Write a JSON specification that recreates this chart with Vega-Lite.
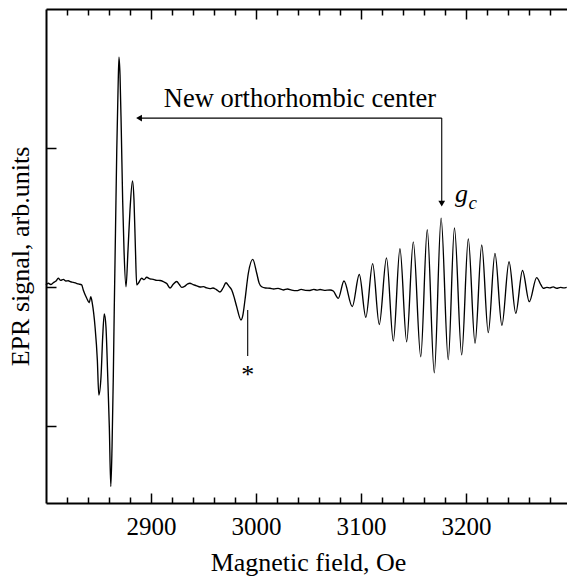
{
  "$schema": "https://vega.github.io/schema/vega-lite/v6.json",
  "autosize": {"type": "none"},
  "padding": {"left": 46, "top": 9, "right": 0, "bottom": 73},
  "width": 521,
  "height": 494,
  "background": "white",
  "config": {
    "view": {"stroke": null},
    "font": "Liberation Serif",
    "axis": {"labelFont": "Liberation Serif", "titleFont": "Liberation Serif", "titleFontWeight": "normal", "labelColor": "black", "titleColor": "black", "domainColor": "black", "tickColor": "black", "grid": false}
  },
  "resolve": {"axis": {"x": "independent", "y": "independent"}},
  "layer": [
    {
      "data": {"values": [
        {"x": 2800.0, "v": 0.017}, {"x": 2802.2, "v": 0.029}, {"x": 2804.5, "v": 0.02}, {"x": 2807.0, "v": 0.033}, {"x": 2809.5, "v": 0.045}, {"x": 2811.7, "v": 0.065}, {"x": 2814.0, "v": 0.05}, {"x": 2816.5, "v": 0.057}, {"x": 2819.0, "v": 0.045}, {"x": 2821.2, "v": 0.047}, {"x": 2823.5, "v": 0.04}, {"x": 2826.0, "v": 0.036}, {"x": 2828.5, "v": 0.03}, {"x": 2830.8, "v": 0.024}, {"x": 2834.0, "v": 0.017}, {"x": 2835.5, "v": -0.019}, {"x": 2838.8, "v": -0.079}, {"x": 2841.2, "v": -0.111}, {"x": 2842.6, "v": -0.068}, {"x": 2844.1, "v": -0.115}, {"x": 2846.7, "v": -0.283}, {"x": 2848.9, "v": -0.522}, {"x": 2850.3, "v": -0.774}, {"x": 2852.4, "v": -0.642}, {"x": 2854.0, "v": -0.355}, {"x": 2855.5, "v": -0.192}, {"x": 2857.1, "v": -0.283}, {"x": 2858.8, "v": -0.642}, {"x": 2860.3, "v": -1.001}, {"x": 2861.7, "v": -1.431}, {"x": 2862.9, "v": -1.145}, {"x": 2864.1, "v": -0.642}, {"x": 2865.0, "v": -0.163}, {"x": 2866.2, "v": 0.412}, {"x": 2867.4, "v": 0.986}, {"x": 2868.6, "v": 1.417}, {"x": 2869.5, "v": 1.654}, {"x": 2870.5, "v": 1.525}, {"x": 2871.7, "v": 1.13}, {"x": 2873.0, "v": 0.628}, {"x": 2874.3, "v": 0.268}, {"x": 2876.2, "v": 0.004}, {"x": 2878.1, "v": 0.268}, {"x": 2880.0, "v": 0.555}, {"x": 2882.4, "v": 0.764}, {"x": 2883.8, "v": 0.627}, {"x": 2885.2, "v": 0.268}, {"x": 2886.4, "v": 0.017}, {"x": 2888.1, "v": 0.031}, {"x": 2891.1, "v": 0.065}, {"x": 2893.5, "v": 0.055}, {"x": 2895.9, "v": 0.072}, {"x": 2899.0, "v": 0.06}, {"x": 2902.2, "v": 0.057}, {"x": 2905.5, "v": 0.05}, {"x": 2908.6, "v": 0.049}, {"x": 2912.0, "v": 0.04}, {"x": 2915.0, "v": 0.027}, {"x": 2918.1, "v": -0.005}, {"x": 2921.0, "v": 0.02}, {"x": 2924.5, "v": 0.042}, {"x": 2927.0, "v": 0.02}, {"x": 2929.3, "v": -0.001}, {"x": 2932.4, "v": 0.009}, {"x": 2935.0, "v": 0.025}, {"x": 2937.1, "v": 0.029}, {"x": 2940.0, "v": 0.02}, {"x": 2943.0, "v": 0.012}, {"x": 2946.7, "v": 0.002}, {"x": 2950.0, "v": 0.005}, {"x": 2953.0, "v": -0.004}, {"x": 2956.2, "v": -0.009}, {"x": 2959.0, "v": -0.005}, {"x": 2962.0, "v": -0.015}, {"x": 2965.7, "v": -0.034}, {"x": 2968.6, "v": -0.005}, {"x": 2971.4, "v": 0.033}, {"x": 2974.0, "v": 0.01}, {"x": 2976.9, "v": -0.019}, {"x": 2979.5, "v": -0.08}, {"x": 2981.6, "v": -0.139}, {"x": 2985.7, "v": -0.235}, {"x": 2987.5, "v": -0.2}, {"x": 2989.5, "v": -0.091}, {"x": 2992.7, "v": 0.101}, {"x": 2996.9, "v": 0.201}, {"x": 3000.7, "v": 0.101}, {"x": 3003.0, "v": 0.03}, {"x": 3005.4, "v": 0.004}, {"x": 3009.0, "v": -0.005}, {"x": 3013.3, "v": -0.007}, {"x": 3017.0, "v": -0.012}, {"x": 3021.0, "v": -0.008}, {"x": 3026.0, "v": -0.019}, {"x": 3030.0, "v": -0.012}, {"x": 3034.0, "v": -0.02}, {"x": 3038.8, "v": -0.024}, {"x": 3043.0, "v": -0.015}, {"x": 3047.0, "v": -0.022}, {"x": 3051.4, "v": -0.023}, {"x": 3055.0, "v": -0.015}, {"x": 3058.0, "v": -0.02}, {"x": 3061.0, "v": -0.016}, {"x": 3065.0, "v": -0.022}, {"x": 3070.5, "v": -0.019}, {"x": 3073.6, "v": -0.027}, {"x": 3078.4, "v": -0.079}, {"x": 3083.8, "v": 0.045}, {"x": 3091.7, "v": -0.138}, {"x": 3098.4, "v": 0.092}, {"x": 3104.6, "v": -0.216}, {"x": 3111.1, "v": 0.17}, {"x": 3117.4, "v": -0.267}, {"x": 3124.3, "v": 0.212}, {"x": 3130.8, "v": -0.386}, {"x": 3137.1, "v": 0.277}, {"x": 3143.5, "v": -0.391}, {"x": 3149.8, "v": 0.327}, {"x": 3156.9, "v": -0.499}, {"x": 3163.1, "v": 0.414}, {"x": 3169.8, "v": -0.614}, {"x": 3176.3, "v": 0.496}, {"x": 3183.1, "v": -0.52}, {"x": 3189.0, "v": 0.426}, {"x": 3195.9, "v": -0.486}, {"x": 3202.2, "v": 0.348}, {"x": 3208.6, "v": -0.402}, {"x": 3215.0, "v": 0.304}, {"x": 3221.2, "v": -0.326}, {"x": 3227.6, "v": 0.244}, {"x": 3234.2, "v": -0.274}, {"x": 3241.0, "v": 0.184}, {"x": 3247.4, "v": -0.187}, {"x": 3253.8, "v": 0.121}, {"x": 3260.3, "v": -0.103}, {"x": 3267.3, "v": 0.07}, {"x": 3271.4, "v": 0.017}, {"x": 3273.6, "v": -0.007}, {"x": 3277.0, "v": 0.0}, {"x": 3280.0, "v": -0.004}, {"x": 3283.0, "v": 0.003}, {"x": 3286.4, "v": -0.007}, {"x": 3290.0, "v": 0.0}, {"x": 3293.0, "v": -0.004}, {"x": 3295.9, "v": 0.0}
      ]},
      "mark": {"type": "line", "color": "black", "strokeWidth": 1.35, "interpolate": "monotone"},
      "encoding": {
        "x": {"field": "x", "type": "quantitative", "scale": {"domain": [2800, 3296.2], "nice": false, "zero": false},
          "axis": {"orient": "bottom", "values": [2900, 3000, 3100, 3200],
            "format": "d", "tickSize": -10, "tickWidth": 1.5, "domainWidth": 2, "labelFontSize": 25, "labelPadding": 21, "labelFlush": false, "labelOverlap": false,
            "title": "Magnetic field, Oe", "titleFontSize": 26, "titleX": 262, "titleY": 67, "titleAlign": "center", "titleBaseline": "alphabetic", "titleAnchor": null}},
        "y": {"field": "v", "type": "quantitative", "scale": {"domain": [-1.55, 2.0], "nice": false, "zero": false},
          "axis": {"orient": "left", "values": [-1, 0, 1], "labels": false, "tickSize": -10, "tickWidth": 1.5, "domainWidth": 2,
            "title": "EPR signal, arb.units", "titleFontSize": 26, "titleX": -18, "titleY": 247, "titleAngle": -90, "titleAlign": "center", "titleBaseline": "alphabetic"}}
      }
    },
    {
      "data": {"values": [
        {"x": 2888.6, "v": 1.216, "x2": 3176.9, "v2": 1.216},
        {"x": 3176.9, "v": 1.216, "x2": 3176.9, "v2": 0.61},
        {"x": 2992.1, "v": -0.163, "x2": 2992.1, "v2": -0.494}
      ]},
      "mark": {"type": "rule", "color": "black", "strokeWidth": 1.1},
      "encoding": {
        "x": {"field": "x", "type": "quantitative",
          "axis": {"orient": "top", "values": [2900, 3000, 3100, 3200], "labels": false, "title": null, "tickSize": -10, "tickWidth": 1.5, "domainWidth": 2}},
        "y": {"field": "v", "type": "quantitative", "axis": null},
        "x2": {"field": "x2"},
        "y2": {"field": "v2"}
      }
    },
    {
      "data": {"values": [{"x": 2888.6, "v": 1.216}]},
      "mark": {"type": "point", "shape": "triangle-left", "filled": true, "color": "black", "size": 45, "opacity": 1},
      "encoding": {
        "x": {"field": "x", "type": "quantitative",
          "axis": {"orient": "bottom", "values": [2820, 2840, 2860, 2880, 2920, 2940, 2960, 2980, 3020, 3040, 3060, 3080, 3120, 3140, 3160, 3180, 3220, 3240, 3260, 3280], "labels": false, "title": null, "domain": false, "tickSize": -6, "tickWidth": 1.5}},
        "y": {"field": "v", "type": "quantitative", "axis": null}
      }
    },
    {
      "data": {"values": [{"x": 3176.9, "v": 0.601}]},
      "mark": {"type": "point", "shape": "triangle-down", "filled": true, "color": "black", "size": 45, "opacity": 1},
      "encoding": {
        "x": {"field": "x", "type": "quantitative",
          "axis": {"orient": "top", "values": [2820, 2840, 2860, 2880, 2920, 2940, 2960, 2980, 3020, 3040, 3060, 3080, 3120, 3140, 3160, 3180, 3220, 3240, 3260, 3280], "labels": false, "title": null, "domain": false, "tickSize": -6, "tickWidth": 1.5}},
        "y": {"field": "v", "type": "quantitative", "axis": null}
      }
    },
    {
      "data": {"values": [{"x": 3041.9, "v": 1.297, "t": "New orthorhombic center"}]},
      "mark": {"type": "text", "font": "Liberation Serif", "fontSize": 26.5, "align": "center", "baseline": "alphabetic", "color": "black"},
      "encoding": {
        "x": {"field": "x", "type": "quantitative", "axis": null},
        "y": {"field": "v", "type": "quantitative", "axis": null},
        "text": {"field": "t"}
      }
    },
    {
      "data": {"values": [{"x": 3189.5, "v": 0.61, "t": "g"}]},
      "mark": {"type": "text", "font": "Liberation Serif", "fontSize": 26, "fontStyle": "italic", "align": "left", "baseline": "alphabetic", "color": "black"},
      "encoding": {
        "x": {"field": "x", "type": "quantitative", "axis": null},
        "y": {"field": "v", "type": "quantitative", "axis": null},
        "text": {"field": "t"}
      }
    },
    {
      "data": {"values": [{"x": 3202.5, "v": 0.565, "t": "c"}]},
      "mark": {"type": "text", "font": "Liberation Serif", "fontSize": 19, "fontStyle": "italic", "align": "left", "baseline": "alphabetic", "color": "black"},
      "encoding": {
        "x": {"field": "x", "type": "quantitative", "axis": null},
        "y": {"field": "v", "type": "quantitative", "axis": null},
        "text": {"field": "t"}
      }
    },
    {
      "data": {"values": [{"x": 2992.1, "v": -0.689, "t": "*"}]},
      "mark": {"type": "text", "font": "Liberation Serif", "fontSize": 26, "align": "center", "baseline": "alphabetic", "color": "black"},
      "encoding": {
        "x": {"field": "x", "type": "quantitative", "axis": null},
        "y": {"field": "v", "type": "quantitative", "axis": null},
        "text": {"field": "t"}
      }
    }
  ]
}
